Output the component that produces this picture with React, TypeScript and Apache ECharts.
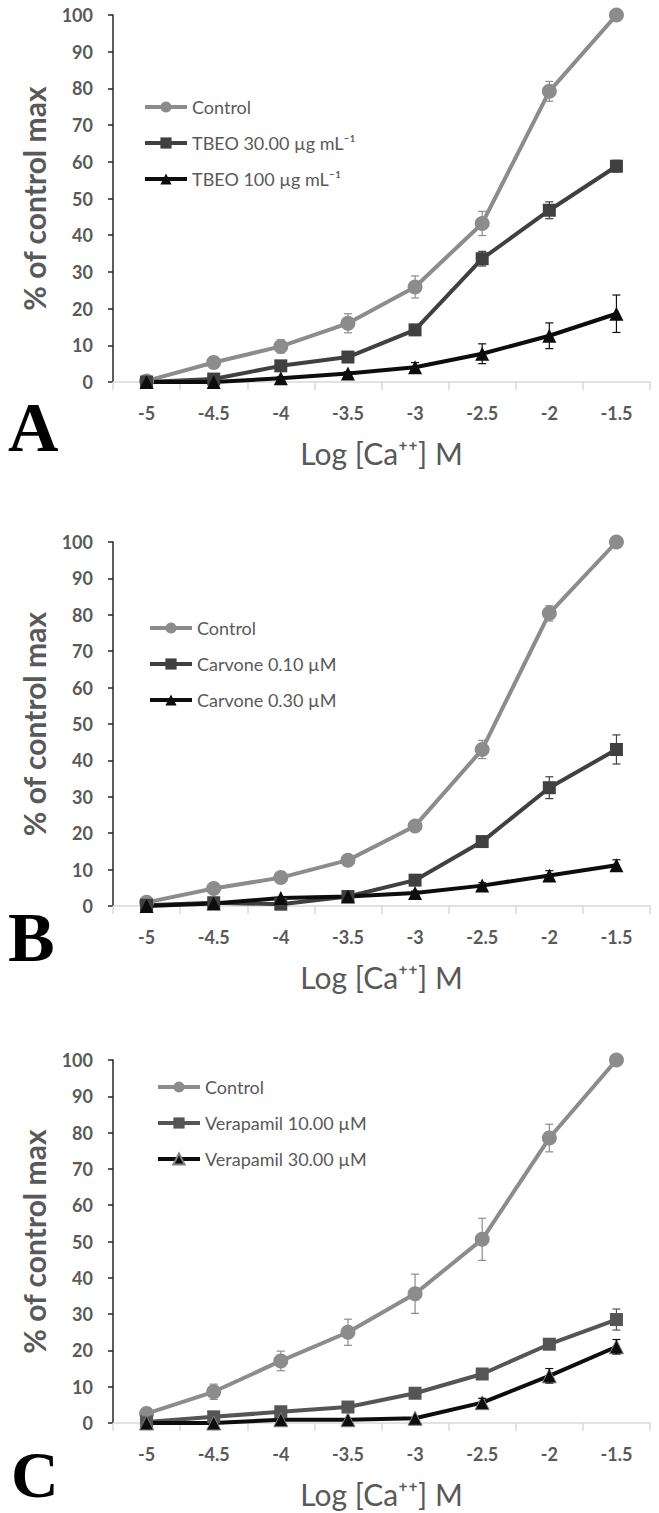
import React, { useEffect, useRef } from "react";
import * as echarts from "echarts";

const categories = ["-5", "-4.5", "-4", "-3.5", "-3", "-2.5", "-2", "-1.5"];
const yTicks = { min: 0, max: 100, interval: 10 };

// Panel A
const aNames = ["Control", "TBEO 30.00 µg mL⁻¹", "TBEO 100 µg mL⁻¹"];
const aControl = [0.3, 5.3, 9.7, 16.0, 25.9, 43.2, 79.2, 100];
const aControlErr = [0, 1.6, 1.8, 2.6, 3.0, 3.3, 2.7, 0];
const aTbeo30 = [0, 0.8, 4.4, 6.8, 14.2, 33.6, 46.8, 58.8];
const aTbeo30Err = [0, 0, 0.8, 0, 0.8, 2.0, 2.3, 1.6];
const aTbeo100 = [0, 0, 1.0, 2.3, 4.0, 7.7, 12.6, 18.6];
const aTbeo100Err = [0, 0, 0.5, 0.5, 1.3, 2.7, 3.5, 5.1];

// Panel B
const bNames = ["Control", "Carvone 0.10 µM", "Carvone 0.30 µM"];
const bControl = [1.0, 4.8, 7.8, 12.6, 22.0, 43.0, 80.4, 100];
const bControlErr = [0, 0, 0, 0, 1.0, 2.5, 2.1, 0];
const bCarv10 = [0.2, 0.9, 0.5, 2.6, 7.1, 17.7, 32.5, 43.0];
const bCarv10Err = [0, 0, 0, 0, 0.8, 1.0, 3.0, 4.0];
const bCarv30 = [0, 0.7, 2.2, 2.6, 3.6, 5.6, 8.4, 11.2];
const bCarv30Err = [0, 0, 0, 0, 0.5, 0.8, 1.3, 1.5];

// Panel C
const cNames = ["Control", "Verapamil 10.00 µM", "Verapamil 30.00 µM"];
const cControl = [2.6, 8.6, 17.1, 25.0, 35.6, 50.6, 78.5, 100];
const cControlErr = [0.6, 2.1, 2.7, 3.6, 5.4, 5.8, 3.8, 0];
const cVera10 = [0.3, 1.7, 3.1, 4.4, 8.2, 13.5, 21.7, 28.5];
const cVera10Err = [0, 0, 0, 0, 0.8, 0.8, 1.0, 2.9];
const cVera30 = [0, 0, 0.9, 0.9, 1.3, 5.6, 13.0, 21.0];
const cVera30Err = [0, 0, 0, 0, 0, 1.2, 2.0, 2.0];

const panelLetters = ["A", "B", "C"];
const xTitle = "Log [Ca⁺⁺] M";
const yTitle = "% of control max";

const FONT = "Lato";
const LABEL_COLOR = "#595959";
const COLORS = ["#8c8c8c", "#404040", "#0d0d0d"];
const COLORS_C = ["#8c8c8c", "#555555", "#0d0d0d"];
const SYMBOLS = ["circle", "rect", "triangle"];
const SIZES = [15, 13, 14];

const GRIDS = [
  { left: 113, top: 15, width: 537, height: 367 },
  { left: 113, top: 542, width: 537, height: 364 },
  { left: 113, top: 1060, width: 537, height: 363 },
];
const LEGENDS = [
  { left: 138, top: 93 },
  { left: 143, top: 614 },
  { left: 151, top: 1073 },
];
const LETTERS = [
  { x: 8, y: 427, size: 70 },
  { x: 8, y: 937, size: 70 },
  { x: 11, y: 1474, size: 66 },
];

function errData(vals: number[], errs: number[]) {
  const out: number[][] = [];
  vals.forEach((v, i) => {
    if (errs[i] > 0) out.push([i, Math.max(0, v - errs[i]), v + errs[i]]);
  });
  return out;
}

function errSeries(idx: number, vals: number[], errs: number[], color: string) {
  return {
    type: "custom",
    xAxisIndex: idx,
    yAxisIndex: idx,
    z: 4,
    silent: true,
    data: errData(vals, errs),
    encode: { x: 0, y: [1, 2] },
    renderItem: (params: any, api: any) => {
      const x = api.value(0);
      const top = api.coord([x, api.value(2)]);
      const bot = api.coord([x, api.value(1)]);
      const cap = 4;
      const style = { stroke: color, lineWidth: 1.2 };
      return {
        type: "group",
        children: [
          { type: "line", shape: { x1: top[0], y1: top[1], x2: bot[0], y2: bot[1] }, style },
          { type: "line", shape: { x1: top[0] - cap, y1: top[1], x2: top[0] + cap, y2: top[1] }, style },
          { type: "line", shape: { x1: bot[0] - cap, y1: bot[1], x2: bot[0] + cap, y2: bot[1] }, style },
        ],
      };
    },
  };
}

function lineSeries(idx: number, k: number, name: string, vals: number[], color: string, border?: string) {
  return {
    type: "line",
    name,
    xAxisIndex: idx,
    yAxisIndex: idx,
    data: vals,
    symbol: SYMBOLS[k],
    symbolSize: SIZES[k],
    z: 3,
    lineStyle: { color, width: 4 },
    itemStyle: border
      ? { color, borderColor: border, borderWidth: 1 }
      : { color },
  };
}

export default function App() {
  const ref = useRef<HTMLDivElement>(null);
  useEffect(() => {
    if (!ref.current) return;
    const chart = echarts.init(ref.current, undefined, { renderer: "svg" });
    const panels = [
      { names: aNames, vals: [aControl, aTbeo30, aTbeo100], errs: [aControlErr, aTbeo30Err, aTbeo100Err], colors: COLORS },
      { names: bNames, vals: [bControl, bCarv10, bCarv30], errs: [bControlErr, bCarv10Err, bCarv30Err], colors: COLORS },
      { names: cNames, vals: [cControl, cVera10, cVera30], errs: [cControlErr, cVera10Err, cVera30Err], colors: COLORS_C },
    ];
    const series: any[] = [];
    panels.forEach((p, idx) => {
      p.vals.forEach((v, k) => {
        series.push(lineSeries(idx, k, p.names[k] + (k === 0 ? "\u200B".repeat(idx) : ""), v, p.colors[k], idx === 2 && k === 2 ? "#808080" : undefined));
      });
      p.vals.forEach((v, k) => {
        series.push(errSeries(idx, v, p.errs[k], p.colors[k]));
      });
    });

    const option: any = {
      animation: false,
      backgroundColor: "#ffffff",
      grid: GRIDS.map((g) => ({ ...g, containLabel: false })),
      legend: panels.map((p, idx) => ({
        left: LEGENDS[idx].left,
        top: LEGENDS[idx].top,
        orient: "vertical",
        itemWidth: 42,
        itemHeight: 14,
        itemGap: 18,
        selectedMode: false,
        lineStyle: { width: 4 },
        textStyle: { fontFamily: FONT, fontSize: 18, color: LABEL_COLOR },
        data: p.names.map((n, k) => n + (k === 0 ? "\u200B".repeat(idx) : "")),
        formatter: (n: string) => n.replace(/\u200B/g, ""),
      })),
      xAxis: GRIDS.map((g, idx) => ({
        type: "category",
        gridIndex: idx,
        data: categories,
        boundaryGap: true,
        axisLine: { show: true, lineStyle: { color: "#d9d9d9", width: 1.5 } },
        axisTick: { show: true, length: 8, lineStyle: { color: "#d9d9d9", width: 1.5 } },
        axisLabel: { margin: 22, fontFamily: FONT, fontSize: 18, fontWeight: "bold", color: LABEL_COLOR },
        splitLine: { show: false },
        name: xTitle,
        nameLocation: "middle",
        nameGap: 56,
        nameTextStyle: { fontFamily: FONT, fontSize: 30, color: LABEL_COLOR },
      })),
      yAxis: GRIDS.map((g, idx) => ({
        type: "value",
        gridIndex: idx,
        min: yTicks.min,
        max: yTicks.max,
        interval: yTicks.interval,
        axisLine: { show: true, lineStyle: { color: "#262626", width: 1.5 } },
        axisTick: { show: true, length: 5, lineStyle: { color: "#262626", width: 1.5 } },
        axisLabel: { margin: 20, fontFamily: FONT, fontSize: 18, fontWeight: "bold", color: LABEL_COLOR },
        splitLine: { show: false },
        name: yTitle,
        nameLocation: "middle",
        nameGap: 64,
        nameTextStyle: { fontFamily: FONT, fontSize: 30, fontWeight: "bold", color: LABEL_COLOR },
      })),
      graphic: panelLetters.map((t, idx) => ({
        type: "text",
        x: LETTERS[idx].x,
        y: LETTERS[idx].y,
        style: {
          text: t,
          font: `bold ${LETTERS[idx].size}px 'Liberation Serif', serif`,
          fill: "#000000",
          verticalAlign: "middle",
          align: "left",
        },
      })),
      series,
    };
    chart.setOption(option);
    return () => chart.dispose();
  }, []);
  return (
    <div
      ref={ref}
      style={{ position: "absolute", left: 0, top: 0, width: 659, height: 1513, background: "#fff" }}
    />
  );
}
